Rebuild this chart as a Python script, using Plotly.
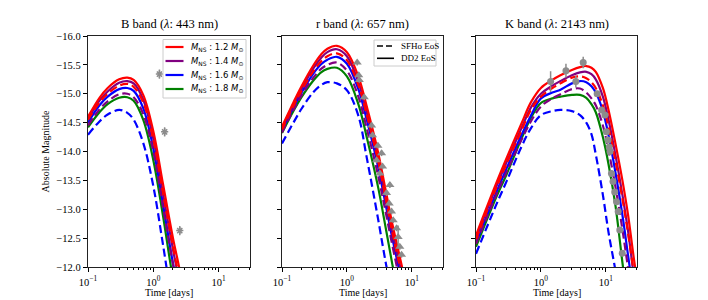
import plotly.graph_objects as go

# ---------------- data ----------------
masses = ["1.2", "1.4", "1.6", "1.8"]
mass_colors = ["#ff0000", "#800080", "#0000ff", "#008000"]
eos_names = ["SFHo EoS", "DD2 EoS"]

panel_titles = ["B band (<i>λ</i>: 443 nm)", "r band (<i>λ</i>: 657 nm)", "K band (<i>λ</i>: 2143 nm)"]
x_title = "Time [days]"
y_title = "Absolute Magnitude"
x_tick_vals = [0.1, 1, 10]
x_tick_text = ["10<sup>−1</sup>", "10<sup>0</sup>", "10<sup>1</sup>"]
x_minor_vals = [0.2, 0.3, 0.4, 0.5, 0.6, 0.7, 0.8, 0.9, 2, 3, 4, 5, 6, 7, 8, 9, 20, 30]

# B band (time grid in days, magnitudes)
B_t = [0.1, 0.15, 0.2, 0.3, 0.4, 0.5, 0.7, 1.0, 1.4, 2.0, 2.5, 3.0]
B_DD2_12 = [-14.60, -14.93, -15.10, -15.25, -15.28, -15.24, -14.98, -14.35, -13.45, -12.50, -11.98, -11.50]
B_DD2_14 = [-14.56, -14.88, -15.04, -15.19, -15.22, -15.18, -14.90, -14.22, -13.28, -12.30, -11.75, -11.30]
B_DD2_16 = [-14.50, -14.80, -14.95, -15.08, -15.10, -15.05, -14.75, -14.05, -13.10, -12.06, -11.50, -11.00]
B_DD2_18 = [-14.42, -14.68, -14.82, -14.93, -14.94, -14.88, -14.55, -13.85, -12.90, -11.80, -11.30, -10.80]
B_SFHo_12 = [-14.55, -14.85, -15.00, -15.14, -15.17, -15.12, -14.85, -14.20, -13.30, -12.35, -11.80, -11.30]
B_SFHo_14 = [-14.45, -14.73, -14.87, -14.99, -15.00, -14.94, -14.65, -14.00, -13.05, -12.05, -11.50, -11.00]
B_SFHo_16 = [-14.29, -14.52, -14.64, -14.72, -14.67, -14.55, -14.15, -13.40, -12.40, -11.30, -10.80, -10.30]
B_obs_t = [1.24, 1.49, 2.54]
B_obs_m = [-15.34, -14.34, -12.63]
B_obs_e = [0.08, 0.08, 0.08]

# r band
r_t = [0.1, 0.15, 0.2, 0.3, 0.4, 0.5, 0.7, 1.0, 1.5, 2.0, 3.0, 4.0, 5.0, 7.0, 9.0]
r_DD2_12 = [-14.43, -14.85, -15.13, -15.48, -15.68, -15.78, -15.83, -15.72, -15.30, -14.80, -14.00, -13.30, -12.75, -12.02, -11.45]
r_DD2_14 = [-14.40, -14.81, -15.08, -15.43, -15.62, -15.72, -15.77, -15.65, -15.20, -14.70, -13.88, -13.18, -12.62, -11.88, -11.30]
r_DD2_16 = [-14.36, -14.76, -15.02, -15.34, -15.51, -15.59, -15.64, -15.52, -15.08, -14.57, -13.75, -13.05, -12.50, -11.75, -11.20]
r_DD2_18 = [-14.32, -14.70, -14.94, -15.22, -15.37, -15.43, -15.45, -15.30, -14.82, -14.27, -13.40, -12.65, -12.05, -11.20, -10.60]
r_SFHo_12 = [-14.38, -14.79, -15.05, -15.38, -15.56, -15.65, -15.70, -15.58, -15.15, -14.65, -13.85, -13.15, -12.60, -11.85, -11.30]
r_SFHo_14 = [-14.33, -14.72, -14.97, -15.27, -15.43, -15.50, -15.54, -15.40, -14.95, -14.42, -13.60, -12.92, -12.38, -11.60, -11.00]
r_SFHo_16 = [-14.14, -14.50, -14.74, -15.02, -15.15, -15.20, -15.18, -15.06, -14.62, -13.92, -12.85, -12.05, -11.50, -10.60, -10.00]
r_obs_t = [1.44, 1.52, 1.55, 1.85, 2.40, 2.48, 3.00, 3.42, 2.86, 3.54, 3.22, 4.59, 4.08, 4.48, 4.87, 5.16, 5.82, 6.15, 6.53, 6.94]
r_obs_m = [-15.54, -15.32, -15.24, -14.94, -14.45, -14.28, -14.10, -13.97, -13.85, -13.74, -13.62, -13.42, -13.28, -13.10, -12.96, -12.81, -12.67, -12.52, -12.35, -12.21]
r_obs_e = [0.05, 0.05, 0.05, 0.05, 0.05, 0.05, 0.05, 0.05, 0.05, 0.05, 0.05, 0.05, 0.05, 0.05, 0.05, 0.05, 0.05, 0.20, 0.05, 0.05]

# K band
K_t = [0.1, 0.2, 0.3, 0.5, 0.7, 1.0, 1.5, 2.0, 3.0, 4.0, 5.0, 6.0, 7.0, 9.0, 11.0, 14.0, 18.0, 22.0, 27.0, 32.0]
K_DD2_12 = [-12.55, -13.42, -13.90, -14.48, -14.85, -15.10, -15.24, -15.32, -15.41, -15.46, -15.48, -15.45, -15.38, -15.10, -14.72, -14.15, -13.50, -12.90, -12.15, -11.60]
K_DD2_14 = [-12.50, -13.36, -13.83, -14.40, -14.76, -15.00, -15.14, -15.22, -15.32, -15.37, -15.38, -15.34, -15.25, -14.95, -14.55, -13.95, -13.25, -12.62, -11.85, -11.30]
K_DD2_16 = [-12.42, -13.26, -13.72, -14.28, -14.62, -14.92, -15.02, -15.07, -15.18, -15.22, -15.20, -15.13, -15.02, -14.70, -14.28, -13.65, -12.90, -12.20, -11.50, -11.00]
K_DD2_18 = [-12.35, -13.18, -13.62, -14.22, -14.58, -14.84, -14.92, -14.95, -14.98, -14.98, -14.93, -14.82, -14.68, -14.25, -13.78, -13.08, -12.08, -11.30, -10.60, -10.00]
K_SFHo_12 = [-12.48, -13.34, -13.80, -14.36, -14.72, -14.95, -15.10, -15.18, -15.28, -15.30, -15.27, -15.20, -15.10, -14.80, -14.42, -13.85, -13.18, -12.58, -11.90, -11.35]
K_SFHo_14 = [-12.40, -13.22, -13.66, -14.20, -14.52, -14.78, -14.92, -14.99, -15.08, -15.09, -15.02, -14.92, -14.80, -14.45, -14.02, -13.40, -12.65, -11.98, -11.30, -10.80]
K_SFHo_16 = [-12.23, -13.05, -13.50, -14.08, -14.40, -14.63, -14.70, -14.72, -14.70, -14.63, -14.50, -14.30, -13.95, -13.25, -12.60, -11.95, -11.20, -10.50, -9.80, -9.20]
K_obs_t = [1.41, 2.43, 3.45, 4.48, 7.35, 8.6, 9.66, 10.2, 10.8, 11.3, 11.6, 12.2, 12.9, 13.7, 14.6, 15.5, 16.4, 17.9]
K_obs_m = [-15.21, -15.40, -15.21, -15.54, -15.00, -14.72, -14.63, -14.34, -14.20, -14.08, -14.00, -13.62, -13.48, -13.30, -13.13, -12.96, -12.64, -12.24]
K_obs_e = [0.18, 0.12, 0.10, 0.10, 0.05, 0.05, 0.05, 0.05, 0.05, 0.05, 0.05, 0.05, 0.05, 0.05, 0.05, 0.05, 0.05, 0.05]

# ---------------- figure ----------------
W, H = 708, 300
SERIF = "Liberation Serif"
GREY = "#8c8c8c"
LW = 2.2
DASH = "8px,4px"


def px(x):
    return x / W


def py(y):
    return 1 - y / H


panels = [
    (B_t, [B_DD2_12, B_DD2_14, B_DD2_16, B_DD2_18], [B_SFHo_12, B_SFHo_14, B_SFHo_16],
     B_obs_t, B_obs_m, B_obs_e, "asterisk-open", 6),
    (r_t, [r_DD2_12, r_DD2_14, r_DD2_16, r_DD2_18], [r_SFHo_12, r_SFHo_14, r_SFHo_16],
     r_obs_t, r_obs_m, r_obs_e, "triangle-up", 8),
    (K_t, [K_DD2_12, K_DD2_14, K_DD2_16, K_DD2_18], [K_SFHo_12, K_SFHo_14, K_SFHo_16],
     K_obs_t, K_obs_m, K_obs_e, "circle", 7),
]

fig = go.Figure()
for i, (t, dd2, sfho, ot, om, oe, sym, msz) in enumerate(panels):
    xa = "x" if i == 0 else f"x{i+1}"
    ya = "y" if i == 0 else f"y{i+1}"
    for k in range(3, -1, -1):
        if k < len(sfho):
            fig.add_trace(go.Scatter(x=t, y=sfho[k], mode="lines", xaxis=xa, yaxis=ya, showlegend=False,
                                     line=dict(color=mass_colors[k], width=LW, dash=DASH, shape="spline")))
        fig.add_trace(go.Scatter(x=t, y=dd2[k], mode="lines", xaxis=xa, yaxis=ya, showlegend=False,
                                 line=dict(color=mass_colors[k], width=LW, shape="spline")))
    mk = dict(symbol=sym, size=msz, color=GREY)
    if sym.endswith("open"):
        mk["line"] = dict(color=GREY, width=1.5)
    fig.add_trace(go.Scatter(x=ot, y=om, mode="markers", xaxis=xa, yaxis=ya, showlegend=False,
                             marker=mk,
                             error_y=dict(type="data", array=oe, color=GREY, thickness=1.5, width=0)))

x_domains = [[px(88), px(250)], [px(282), px(443)], [px(476), px(637)]]
y_domain = [py(267), py(36)]

shapes = []
annotations = []

# manual legend 1 (mass)
shapes.append(dict(type="rect", xref="paper", yref="paper", x0=px(163), x1=px(246), y0=py(98), y1=py(39.5),
                   line=dict(color="#cccccc", width=1), fillcolor="white", layer="above"))
for k in range(4):
    yy = 47 + 14 * k
    shapes.append(dict(type="line", xref="paper", yref="paper", x0=px(165.5), x1=px(183.5), y0=py(yy), y1=py(yy),
                       line=dict(color=mass_colors[k], width=LW), layer="above"))
    annotations.append(dict(text=f"<i>M</i><sub>NS</sub> : {masses[k]} <i>M</i><sub>⊙</sub>",
                            x=px(189), y=py(yy), xref="paper", yref="paper", xanchor="left", yanchor="middle",
                            showarrow=False, font=dict(family="DejaVu Sans", size=8.5, color="black")))

# manual legend 2 (EoS)
shapes.append(dict(type="rect", xref="paper", yref="paper", x0=px(374), x1=px(436), y0=py(66), y1=py(40),
                   line=dict(color="#cccccc", width=1), fillcolor="white", layer="above"))
for k, (nm, dsh) in enumerate(zip(eos_names, ["6px,3px", "solid"])):
    yy = 46 + 12.3 * k
    shapes.append(dict(type="line", xref="paper", yref="paper", x0=px(377), x1=px(394), y0=py(yy), y1=py(yy),
                       line=dict(color="black", width=1.6, dash=dsh), layer="above"))
    annotations.append(dict(text=nm, x=px(399), y=py(yy), xref="paper", yref="paper", xanchor="left",
                            yanchor="middle", showarrow=False, font=dict(family=SERIF, size=9, color="black")))

layout = dict(
    width=W, height=H,
    margin=dict(l=0, r=0, t=0, b=0),
    paper_bgcolor="white", plot_bgcolor="white",
    font=dict(family=SERIF, size=11, color="black"),
    showlegend=False,
)

for i in range(3):
    xk = "xaxis" if i == 0 else f"xaxis{i+1}"
    yk = "yaxis" if i == 0 else f"yaxis{i+1}"
    ya = "y" if i == 0 else f"y{i+1}"
    xa = "x" if i == 0 else f"x{i+1}"
    layout[xk] = dict(
        domain=x_domains[i], anchor=ya, type="log", range=[-1, 1.48],
        tickmode="array", tickvals=x_tick_vals, ticktext=x_tick_text,
        ticks="outside", ticklen=4, tickwidth=1, tickcolor="black", ticklabelstandoff=1,
        minor=dict(tickmode="array", tickvals=x_minor_vals, ticks="outside", ticklen=2,
                   tickwidth=1, tickcolor="black", showgrid=False),
        showline=True, linecolor="#222222", linewidth=1.3, mirror=True,
        showgrid=False, zeroline=False, automargin=False,
        tickfont=dict(family=SERIF, size=10.5),
    )
    layout[yk] = dict(
        domain=y_domain, anchor=xa, range=[-12, -16], dtick=0.5, tick0=-16,
        tickformat=".1f", showticklabels=(i == 0),
        ticks="outside", ticklen=4, tickwidth=1, tickcolor="black",
        showline=True, linecolor="#222222", linewidth=1.3, mirror=True,
        showgrid=False, zeroline=False, automargin=False,
        tickfont=dict(family=SERIF, size=10.5),
    )
    if i == 0:
        layout[yk]["title"] = dict(text=y_title, font=dict(family=SERIF, size=10), standoff=4)
    annotations.append(dict(
        text=panel_titles[i], x=sum(x_domains[i]) / 2, y=py(24), xref="paper", yref="paper",
        xanchor="center", yanchor="middle", showarrow=False, font=dict(family=SERIF, size=12.5)))
    annotations.append(dict(
        text=x_title, x=sum(x_domains[i]) / 2, y=py(300), xref="paper", yref="paper",
        xanchor="center", yanchor="bottom", showarrow=False, font=dict(family=SERIF, size=10)))

layout["shapes"] = shapes
layout["annotations"] = annotations
fig.update_layout(**layout)
fig.write_html("out.html", config={"displayModeBar": False},
               post_script="document.body.style.margin='0px';")
